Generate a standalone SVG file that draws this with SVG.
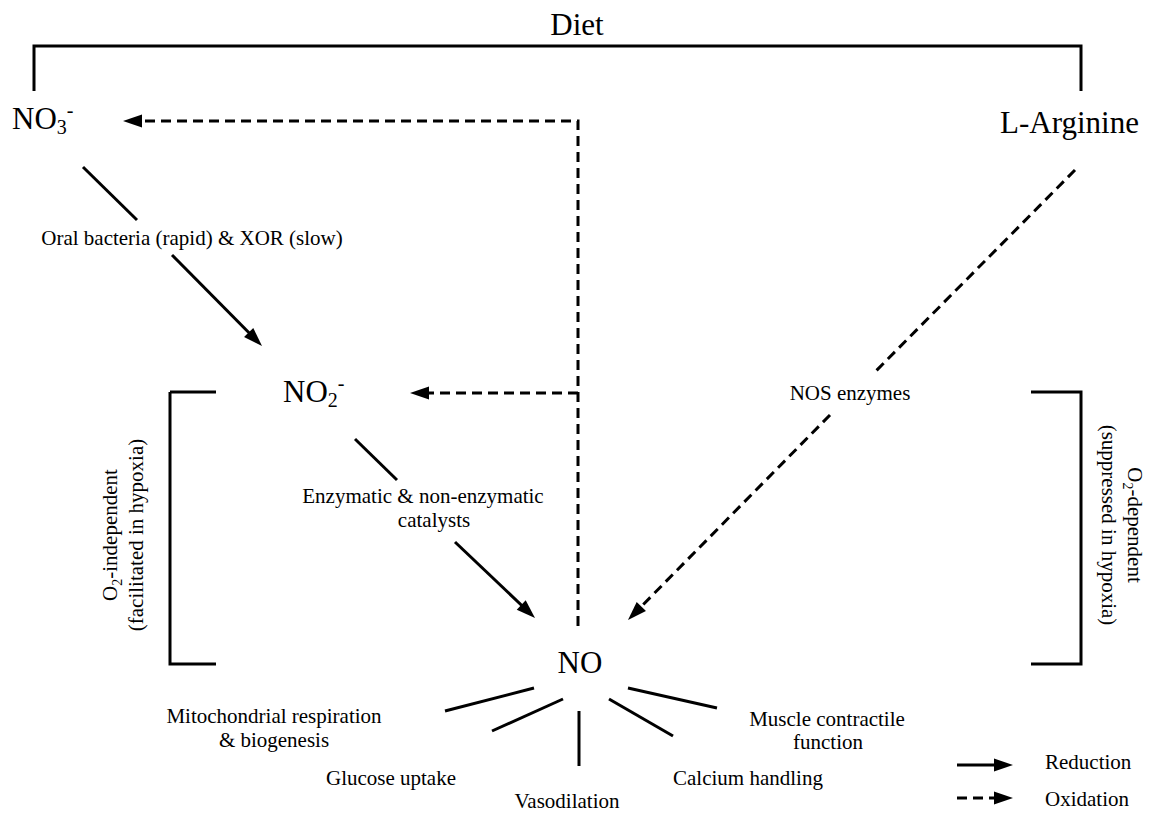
<svg xmlns="http://www.w3.org/2000/svg" width="1149" height="816" viewBox="0 0 1149 816" font-family="'Liberation Serif','Times New Roman',serif">
<style>
text{font-family:"Liberation Serif","Times New Roman",serif;fill:#000}
.big{font-size:31px}
.lbl{font-size:21px}
.sub{font-size:20px}
.s{fill:none;stroke:#000;stroke-width:3}
.d{fill:none;stroke:#000;stroke-width:3;stroke-dasharray:10 6}
</style>
<defs>
<marker id="ah" markerUnits="userSpaceOnUse" markerWidth="19" markerHeight="13" refX="11" refY="6.5" orient="auto" overflow="visible">
<path d="M0,0 L19,6.5 L0,13 Z" fill="#000" stroke="none"/>
</marker>
</defs>
<rect width="1149" height="816" fill="#fff"/>

<g id="connectors">
<path class="s" d="M34,91 V46 H1081 V91"/>
<path class="d" d="M578,626 V121 H131" marker-end="url(#ah)"/>
<path class="d" d="M578,393 H418" marker-end="url(#ah)"/>
<path class="s" d="M83,167 L137,220"/>
<path class="s" d="M172,255 L256.4,340.3" marker-end="url(#ah)"/>
<path class="s" d="M355,439 L397,480"/>
<path class="s" d="M455,542 L529.2,612.5" marker-end="url(#ah)"/>
<path class="d" d="M1075,170 L875,372"/>
<path class="d" d="M830,415 L633.6,614.3" marker-end="url(#ah)"/>
<path class="s" d="M170,392 H216 M170,392 V664 H216"/>
<path class="s" d="M1031,392 H1081 V664 H1031"/>
<path class="s" d="M445,711 L534,688"/>
<path class="s" d="M492,731 L563,699"/>
<path class="s" d="M579,711 V766"/>
<path class="s" d="M609,699 L673,736"/>
<path class="s" d="M628,688 L717,708"/>
</g>

<g id="diet"><text class="big" x="577" y="35" text-anchor="middle" font-size="32">Diet</text></g>
<g id="no3"><text class="big" x="12" y="129">NO<tspan class="sub" dy="5">3</tspan><tspan class="sub" dy="-17">-</tspan></text></g>
<g id="larginine"><text class="big" x="1139" y="133" text-anchor="end">L-Arginine</text></g>
<g id="no2"><text class="big" x="283" y="402">NO<tspan class="sub" dy="5">2</tspan><tspan class="sub" dy="-17">-</tspan></text></g>
<g id="no"><text class="big" x="580" y="673" text-anchor="middle">NO</text></g>

<g id="label-oral"><text class="lbl" x="192" y="245" text-anchor="middle">Oral bacteria (rapid) &amp; XOR (slow)</text></g>
<g id="label-enz">
<text class="lbl" x="423" y="503" text-anchor="middle">Enzymatic &amp; non-enzymatic</text>
<text class="lbl" x="434" y="527" text-anchor="middle">catalysts</text>
</g>
<g id="label-nos"><text class="lbl" x="850" y="400" text-anchor="middle">NOS enzymes</text></g>

<g id="o2-independent">
<text class="lbl" transform="translate(117,535) rotate(-90)" text-anchor="middle">O<tspan font-size="14" dy="5">2</tspan><tspan dy="-5">-independent</tspan></text>
<text class="lbl" transform="translate(143,535) rotate(-90)" text-anchor="middle">(facilitated in hypoxia)</text>
</g>
<g id="o2-dependent">
<text class="lbl" transform="translate(1128,525) rotate(90)" text-anchor="middle">O<tspan font-size="14" dy="5">2</tspan><tspan dy="-5">-dependent</tspan></text>
<text class="lbl" transform="translate(1102,525) rotate(90)" text-anchor="middle">(suppressed in hypoxia)</text>
</g>

<g id="effect-mito">
<text class="lbl" x="274" y="723" text-anchor="middle">Mitochondrial respiration</text>
<text class="lbl" x="274" y="747" text-anchor="middle">&amp; biogenesis</text>
</g>
<g id="effect-glucose"><text class="lbl" x="391" y="785" text-anchor="middle">Glucose uptake</text></g>
<g id="effect-vaso"><text class="lbl" x="567" y="808" text-anchor="middle">Vasodilation</text></g>
<g id="effect-calcium"><text class="lbl" x="748" y="785" text-anchor="middle">Calcium handling</text></g>
<g id="effect-muscle">
<text class="lbl" x="827" y="726" text-anchor="middle">Muscle contractile</text>
<text class="lbl" x="828" y="749" text-anchor="middle">function</text>
</g>

<g id="legend">
<path class="s" d="M957,765 H1005" marker-end="url(#ah)"/>
<path class="d" d="M957,798 H1005" stroke-dasharray="10 9" marker-end="url(#ah)"/>
<text class="lbl" x="1045" y="769">Reduction</text>
<text class="lbl" x="1045" y="806">Oxidation</text>
</g>
</svg>
